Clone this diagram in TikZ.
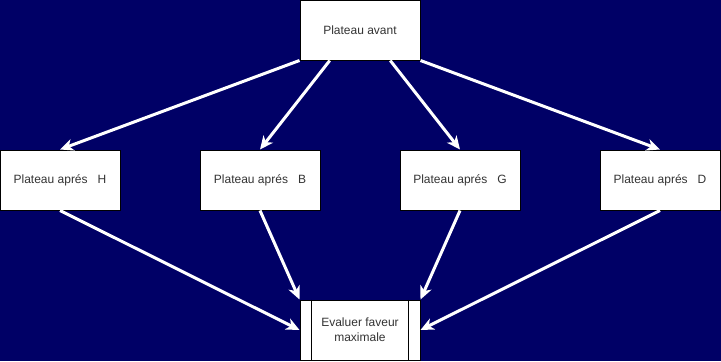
\documentclass[tikz,border=0pt]{standalone}
\usepackage{fontspec}
\setmainfont{Liberation Sans}
\usetikzlibrary{arrows.meta,calc}
\definecolor{navy}{RGB}{0,0,102}
\definecolor{txt}{RGB}{51,51,51}
\begin{document}
\begin{tikzpicture}[x=0.75pt,y=-0.75pt,
  box/.style={draw=black,line width=0.75pt,fill=white,minimum width=90pt,minimum height=45pt,
    inner sep=0pt,align=center,font=\fontsize{9pt}{11pt}\selectfont,text=txt},
  link/.style={draw=white,line width=2.25pt,
    -{Stealth[length=10pt,width=9pt,inset=3pt]}}]
  % page and background
  \fill[navy] (0,0) rectangle (721,361);
  \useasboundingbox (0,0) rectangle (721,361);
  % boards
  \node[box] (avant) at (360,30) {Plateau avant};
  \node[box] (h) at (60,180) {Plateau aprés\ \ \ H};
  \node[box] (b) at (260,180) {Plateau aprés\ \ \ B};
  \node[box] (g) at (460,180) {Plateau aprés\ \ \ G};
  \node[box] (d) at (660,180) {Plateau aprés\ \ \ D};
  % evaluation step (process box)
  \node[box] (eval) at (360,330) {Evaluer faveur\\maximale};
  \draw[line width=0.75pt] ($(eval.north west)+(9pt,0)$) -- ($(eval.south west)+(9pt,0)$);
  \draw[line width=0.75pt] ($(eval.north east)-(9pt,0)$) -- ($(eval.south east)-(9pt,0)$);
  % moves
  \draw[link] (avant.south west) -- (h.north);
  \draw[link] ($(avant.south west)!0.25!(avant.south east)$) -- (b.north);
  \draw[link] ($(avant.south west)!0.75!(avant.south east)$) -- (g.north);
  \draw[link] (avant.south east) -- (d.north);
  % evaluation
  \draw[link] (h.south) -- (eval.west);
  \draw[link] (b.south) -- (eval.north west);
  \draw[link] (g.south) -- (eval.north east);
  \draw[link] (d.south) -- (eval.east);
\end{tikzpicture}
\end{document}
